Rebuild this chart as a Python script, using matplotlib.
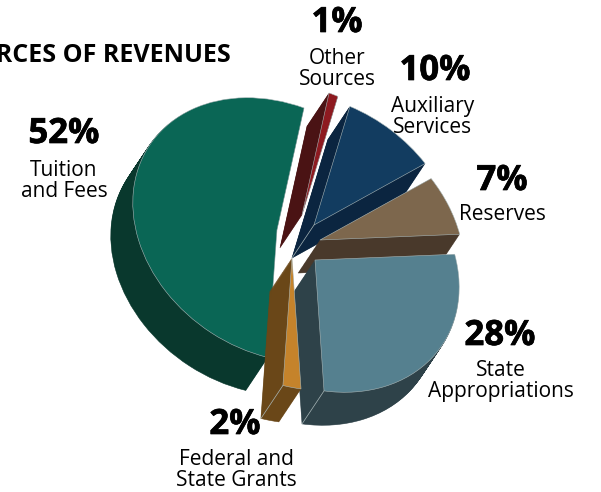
"""
Sources of revenues: exploded pie with an extruded, skewed look.
Each slice is a plain pie wedge pushed through one shared affine map.
"""
import matplotlib
matplotlib.use('Agg')
import numpy as np
import matplotlib.pyplot as plt
import matplotlib.patheffects as pe
from matplotlib.patches import Wedge
from matplotlib.transforms import Affine2D

plt.rcParams['font.family'] = ['Open Sans', 'DejaVu Sans']

# data
sources = ['Tuition\nand Fees', 'Other\nSources', 'Auxiliary\nServices',
           'Reserves', 'State\nAppropriations', 'Federal and\nState Grants']
shares = [52, 1, 10, 7, 28, 2]

# styles, same order as the data
top_colors = ['#0a6655', '#8e1a20', '#123c60', '#7d674d', '#55808f', '#c5832b']
side_colors = ['#09382d', '#4a1314', '#0b2540', '#49392b', '#2e4249', '#6a4718']
draw_order = [2, 1, 0, 3, 4, 5]  # back to front
edge_color = '#a9b7b8'

# layout in image pixels (y down)
W, H = 601, 492
apex_px = [(277, 230), (302, 215), (314, 225), (320, 240), (315, 260), (292, 258)]
pct_px = [(64, 134), (337, 23), (435, 71), (502, 181), (500, 336), (235, 425)]
name_px = [(64, 181), (337, 69), (433, 117), (502, 215), (501, 381), (236, 470)]
depth = (-22, -33)  # extrusion, y up
n_layers = 40
skew = np.array([[143.5, -14.3, 0.0], [-14.3, 131.5, 0.0], [0.0, 0.0, 1.0]])

fig = plt.figure(figsize=(W / 100, H / 100), dpi=100)
ax = fig.add_axes([0, 0, 1, 1])

# the pie only gives the angles, the wedges get moved afterwards
wedges, _ = ax.pie(shares, startangle=260.7, counterclock=False, colors=top_colors,
                   wedgeprops={'linewidth': 0.4, 'edgecolor': edge_color})
ax.set_xlim(0, W)
ax.set_ylim(0, H)
ax.set_aspect('auto')
ax.axis('off')


def slice_transform(i, frac=0.0):
    x = apex_px[i][0] + depth[0] * frac
    y = H - apex_px[i][1] + depth[1] * frac
    return Affine2D(skew.copy()).translate(x, y) + ax.transData


def corner_line(i, radius, theta, zorder):
    # light crease running down the side wall
    t = np.deg2rad(theta)
    start = radius * np.array([np.cos(t), np.sin(t)])
    end = start + np.linalg.solve(skew[:2, :2], depth)
    ax.plot([start[0], end[0]], [start[1], end[1]], color=edge_color, linewidth=0.5,
            transform=slice_transform(i), zorder=zorder)


for rank, i in enumerate(draw_order):
    w = wedges[i]
    base = 10 * (rank + 1)
    # side walls: stack of copies going down to the bottom face
    for k in range(n_layers, 0, -1):
        layer = Wedge((0, 0), 1, w.theta1, w.theta2, facecolor=side_colors[i],
                      edgecolor=side_colors[i], linewidth=0.4, zorder=base)
        ax.add_patch(layer)
        layer.set_transform(slice_transform(i, k / n_layers))
    w.set_transform(slice_transform(i))
    w.set_zorder(base + 1)
    if i == 2:
        corner_line(i, 0.0, w.theta1, base + 0.5)
    if i in (4, 5):
        corner_line(i, 1.0, w.theta1, base + 0.5)

# pie() and plot() may have moved the limits
ax.set_xlim(0, W)
ax.set_ylim(0, H)

# labels, the bold ones get a small stroke to look heavier
heavy = [pe.withStroke(linewidth=0.5, foreground='black')]
for i in range(len(shares)):
    ax.text(pct_px[i][0], H - pct_px[i][1], f'{shares[i]}%', ha='center', va='center',
            fontsize=25, fontweight='bold', color='black', zorder=100, path_effects=heavy)
    ax.text(name_px[i][0], H - name_px[i][1], sources[i], ha='center', va='center',
            fontsize=15, color='black', linespacing=0.98, zorder=100)

ax.text(231, H - 56, 'SOURCES OF REVENUES', ha='right', va='center',
        fontsize=18, fontweight='bold', color='black', zorder=100)

fig.savefig('out.png', dpi=100)
